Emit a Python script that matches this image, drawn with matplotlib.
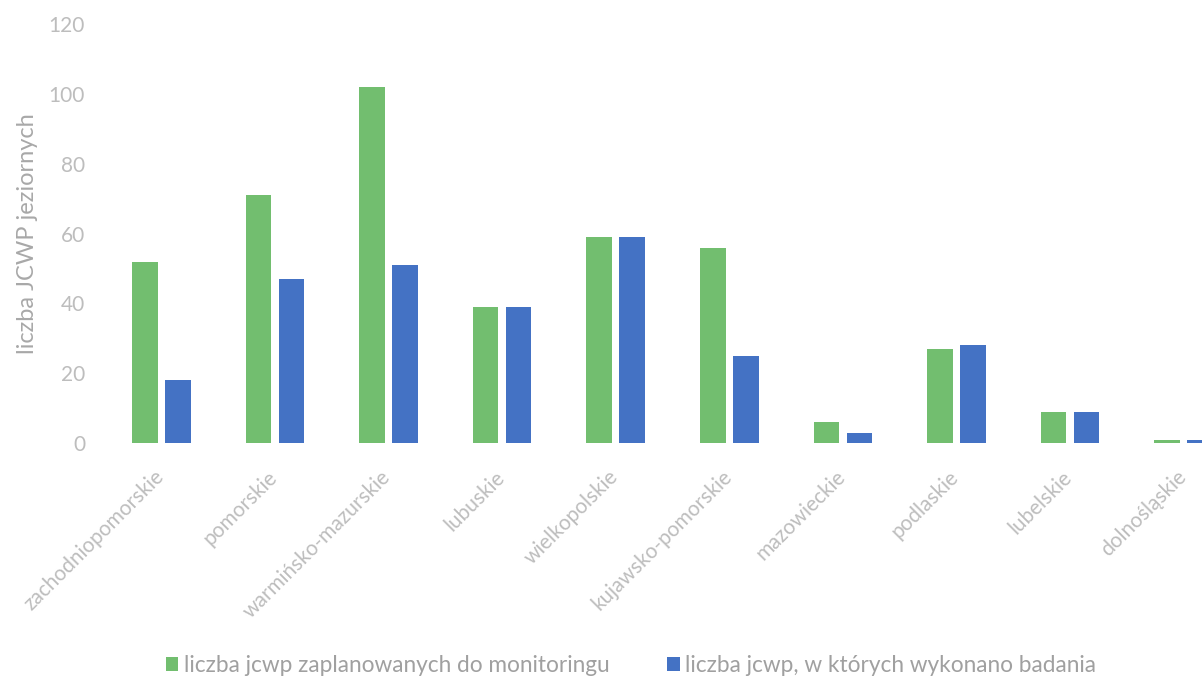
import numpy as np
import matplotlib
matplotlib.use("Agg")
import matplotlib.pyplot as plt

plt.rcParams['font.family'] = ['Lato', 'DejaVu Sans']

regions = ["zachodniopomorskie", "pomorskie", "warmińsko-mazurskie", "lubuskie",
           "wielkopolskie", "kujawsko-pomorskie", "mazowieckie", "podlaskie",
           "lubelskie", "dolnośląskie"]
planned = [52, 71, 102, 39, 59, 56, 6, 27, 9, 1]
surveyed = [18, 47, 51, 39, 59, 25, 3, 28, 9, 1]
yticks = [0, 20, 40, 60, 80, 100, 120]

label_planned = "liczba jcwp zaplanowanych do monitoringu"
label_surveyed = "liczba jcwp, w których wykonano badania"

green = "#72be6f"
blue = "#4472c4"
tick_grey = "#bdbdbd"
label_grey = "#a8a8a8"

fig = plt.figure(figsize=(12.02, 6.83), dpi=100)
ax = fig.add_axes([0.087, 0.351, 0.945, 0.614])

x = np.arange(len(regions))
w = 0.225
off = 0.145
ax.bar(x - off, planned, width=w, color=green, label=label_planned)
ax.bar(x + off, surveyed, width=w, color=blue, label=label_surveyed)

ax.set_xlim(-0.5, len(regions) - 0.5)
ax.set_ylim(0, 120)
ax.set_yticks(yticks)
ax.tick_params(axis='y', length=0, labelsize=15, labelcolor=tick_grey, pad=14)
ax.tick_params(axis='x', length=0, pad=17)
ax.set_xticks(x - 0.07)
ax.set_xticklabels(regions, rotation=45, ha='right', rotation_mode='anchor',
                   fontsize=15, color=tick_grey)
for s in ax.spines.values():
    s.set_visible(False)

ax.set_ylabel("liczba JCWP jeziornych", fontsize=17, color=label_grey, labelpad=8)

fig.legend(loc='lower center', bbox_to_anchor=(0.525, -0.02), ncol=2, frameon=False,
           fontsize=16.3, labelcolor="#a0a0a0", handlelength=0.55, handleheight=0.55,
           handletextpad=0.25, columnspacing=2.55)

fig.savefig("out.png", dpi=100, facecolor="white")
